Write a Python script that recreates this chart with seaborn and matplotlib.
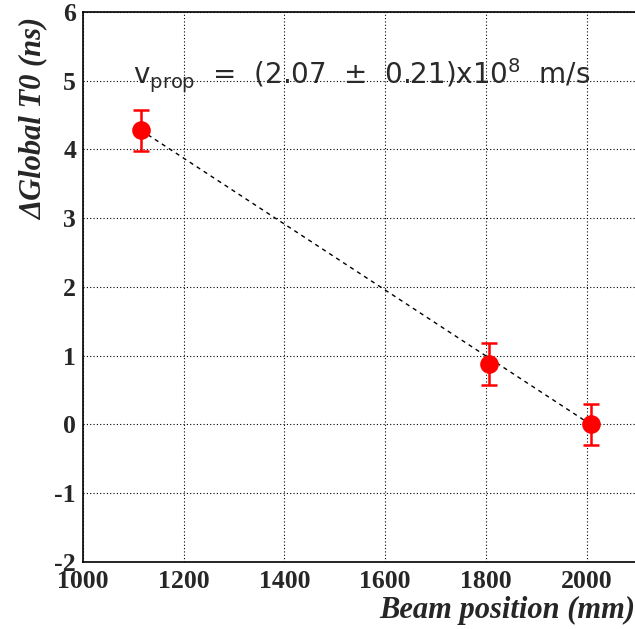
import matplotlib
matplotlib.use("Agg")
import matplotlib.pyplot as plt
import seaborn as sns
import pandas as pd
from matplotlib.ticker import MultipleLocator

sns.set_theme(style="white")
plt.rcParams['font.family'] = ['Liberation Serif', 'DejaVu Serif']
plt.rcParams['axes.unicode_minus'] = False
plt.rcParams['mathtext.fontset'] = 'custom'
plt.rcParams['mathtext.rm'] = 'DejaVu Sans'

# data
beam_pos = [1115, 1806, 2008]
delta_t0 = [4.28, 0.88, 0.0]
t0_err = [0.30, 0.30, 0.30]
fit_x = [1115, 2008]
fit_y = [4.28, 0.0]
x_ticks = [1000, 1200, 1400, 1600, 1800, 2000]
y_ticks = [-2, -1, 0, 1, 2, 3, 4, 5, 6]

df = pd.DataFrame({"x": beam_pos, "y": delta_t0, "err": t0_err})
fit = pd.DataFrame({"x": fit_x, "y": fit_y})

fig = plt.figure(figsize=(6.35, 6.29), dpi=100)
ax = fig.add_axes([0.1307, 0.1065, 0.8725, 0.8745])

ax.set_xlim(1000, 2100)
ax.set_ylim(-2, 6)

ax.grid(True, which='major', color='black', linestyle=(0, (1, 2)), linewidth=0.8)

sns.lineplot(data=fit, x="x", y="y", ax=ax, color='black', linewidth=1.0,
             linestyle=(0, (3, 3)), zorder=3)
ax.errorbar(df["x"], df["y"], yerr=df["err"], fmt='none', ecolor='red',
            elinewidth=1.8, capsize=6, capthick=1.8, zorder=4)
sns.scatterplot(data=df, x="x", y="y", ax=ax, color='red', s=180,
                edgecolor='red', linewidth=0, zorder=5)

ax.set_xticks(x_ticks)
ax.set_yticks(y_ticks)
ax.xaxis.set_minor_locator(MultipleLocator(50))
ax.yaxis.set_minor_locator(MultipleLocator(0.2))
ax.tick_params(which='major', direction='in', length=12, width=1, color='black',
               top=False, right=False, labelsize=18.5)
ax.tick_params(which='minor', direction='in', length=6, width=1, color='black',
               top=False, right=False)
for lab in ax.get_xticklabels() + ax.get_yticklabels():
    lab.set_fontweight('bold')
ax.tick_params(axis='x', pad=6)
ax.tick_params(axis='y', pad=5)

for s in ax.spines.values():
    s.set_color('black')
    s.set_linewidth(1.2)
ax.spines['right'].set_visible(False)

ax.set_xlabel("Beam position (mm)", fontsize=22, fontweight='bold', style='italic')
ax.xaxis.set_label_coords(0.997, -0.062)
ax.xaxis.label.set_horizontalalignment('right')
ax.set_ylabel("ΔGlobal T0 (ns)", fontsize=22, fontweight='bold', style='italic')
ax.yaxis.set_label_coords(-0.062, 0.99)
ax.yaxis.label.set_horizontalalignment('right')

ax.text(1100, 4.95, r"v$_{\rm prop}$  =  (2.07  $\pm$  0.21)x10$^{8}$  m/s",
        fontsize=20, family='DejaVu Sans', color='#2a2a2a', va='baseline')

fig.savefig("out.png", dpi=100)
